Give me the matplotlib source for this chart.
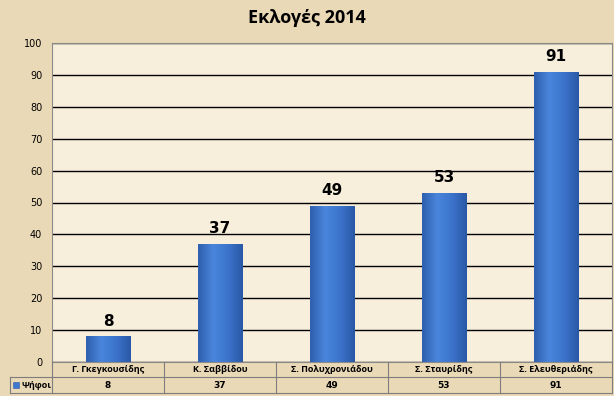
import matplotlib.pyplot as plt
import numpy as np
from matplotlib.colors import LinearSegmentedColormap

plt.rcParams['font.family'] = ['Open Sans', 'DejaVu Sans']

names = ['Γ. Γκεγκουσίδης', 'Κ. Σαββίδου', 'Σ. Πολυχρονιάδου', 'Σ. Σταυρίδης', 'Σ. Ελευθεριάδης']
votes = [8, 37, 49, 53, 91]
series_name = 'Ψήφοι'
title = 'Εκλογές 2014'
yticks = list(range(0, 101, 10))

W, H = 614, 396
fig = plt.figure(figsize=(W / 100, H / 100), dpi=100)
fig.patch.set_facecolor('#ead9b6')

# plot area in pixels: x 52..612, y 43..362
L, R, T, B = 52, 612, 43, 362
ax = fig.add_axes([L / W, 1 - B / H, (R - L) / W, (B - T) / H])
ax.set_facecolor('#f7eedb')

x = np.arange(len(names))
ax.set_yticks(yticks)
ax.set_yticklabels([str(t) for t in yticks], fontsize=7, family=['DejaVu Sans'])
ax.tick_params(axis='y', length=0, pad=7)
ax.set_xticks([])
ax.grid(axis='y', color='black', lw=1)
ax.set_axisbelow(True)
for s in ax.spines.values():
    s.set_color('#8a8a8a')
    s.set_linewidth(0.8)

# bars with a horizontal blue gradient
cmap = LinearSegmentedColormap.from_list('blu', ['#2f5fae', '#4a86dc', '#3c74cc', '#2a58a6'])
grad = np.linspace(0, 1, 64).reshape(1, -1)
bw = 0.4
bars = ax.bar(x, votes, width=bw, color='#3f78d0', edgecolor='#2c5a9e', lw=0.6, zorder=2)
for b in bars:
    x0, w, h = b.get_x(), b.get_width(), b.get_height()
    im = ax.imshow(grad, cmap=cmap, aspect='auto', extent=[x0, x0 + w, 0, h], zorder=2.5)
    im.set_clip_path(b)
    ax.text(x0 + w / 2, h + 2.5, str(int(h)), ha='center', va='bottom',
            fontsize=11, fontweight='bold', family=['DejaVu Sans'])
ax.set_xlim(-0.5, len(names) - 0.5)
ax.set_ylim(0, 100)

# title
fig.text(0.5, 1 - 18 / H, title, ha='center', va='center', fontsize=13, fontweight='bold')

# data table below the axes
def fx(px):
    return px / W

def fy(py):
    return 1 - py / H

lc = '#7d7d7d'
r0, r1, r2 = 362, 377, 393
fig.add_artist(plt.Line2D([fx(10), fx(R)], [fy(r1), fy(r1)], color=lc, lw=0.8))
fig.add_artist(plt.Line2D([fx(10), fx(R)], [fy(r2), fy(r2)], color=lc, lw=0.8))
fig.add_artist(plt.Line2D([fx(10), fx(10)], [fy(r1), fy(r2)], color=lc, lw=0.8))
cw = (R - L) / len(names)
for i in range(len(names) + 1):
    px = L + i * cw
    fig.add_artist(plt.Line2D([fx(px), fx(px)], [fy(r0), fy(r2)], color=lc, lw=0.8))
for i, (n, v) in enumerate(zip(names, votes)):
    cx = L + (i + 0.5) * cw
    fig.text(fx(cx), fy((r0 + r1) / 2), n, ha='center', va='center', fontsize=6.5, fontweight='bold')
    fig.text(fx(cx), fy((r1 + r2) / 2), str(v), ha='center', va='center', fontsize=6.5,
             fontweight='bold', family=['DejaVu Sans'])
fig.add_artist(plt.Rectangle((fx(13), fy(388)), 6 / W, 6 / H, fc='#3f78d0', ec='#2c5a9e', lw=0.4))
fig.text(fx(21), fy((r1 + r2) / 2), series_name, ha='left', va='center', fontsize=6.5, fontweight='bold')

fig.savefig('out.png', dpi=100, facecolor=fig.get_facecolor())
